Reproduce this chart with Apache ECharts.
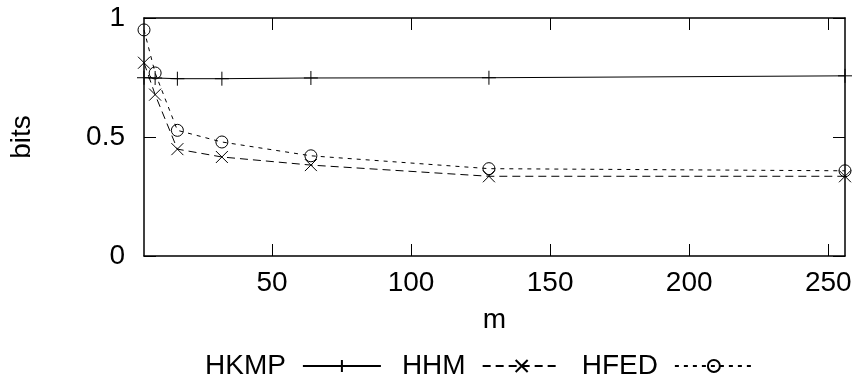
<!DOCTYPE html>
<html><head><meta charset="utf-8">
<script src="https://cdn.jsdelivr.net/npm/echarts@6/dist/echarts.min.js"></script>
<style>html,body{margin:0;padding:0;background:#fff}#c{width:859px;height:388px}</style>
</head><body><div id="c"></div>
<script>
const mValues = [4, 8, 16, 32, 64, 128, 256];
const hkmp = [0.749, 0.748, 0.745, 0.745, 0.748, 0.749, 0.757];
const hhm = [0.812, 0.678, 0.449, 0.416, 0.382, 0.335, 0.335];
const hfed = [0.950, 0.769, 0.528, 0.479, 0.421, 0.367, 0.358];
const xTicks = [50, 100, 150, 200, 250];
const yTicks = [0, 0.5, 1];
const seriesNames = ['HKMP', 'HHM', 'HFED'];

const FONT = 'Liberation Sans';
const FS = 28;
const pair = (ys) => mValues.map((x, i) => [x, ys[i]]);

const axisCommonX = {
  type: 'value', min: 4, max: 256,
  axisLine: {show: true, onZero: false, lineStyle: {color: '#000', width: 1.5}},
  axisTick: {show: true, inside: true, length: 12, customValues: xTicks, lineStyle: {color: '#000', width: 1}},
  splitLine: {show: false}
};
const axisCommonY = {
  type: 'value', min: 0, max: 1, interval: 0.5,
  axisLine: {show: true, onZero: false, lineStyle: {color: '#000', width: 1.5}},
  axisTick: {show: true, inside: true, length: 12, customValues: yTicks, lineStyle: {color: '#000', width: 1}},
  splitLine: {show: false}
};

const chart = echarts.init(document.getElementById('c'), null, {renderer: 'canvas'});
chart.setOption({
  animation: false,
  backgroundColor: '#fff',
  grid: {left: 142, right: 14, top: 18, bottom: 132},
  xAxis: [
    Object.assign({}, axisCommonX, {
      position: 'bottom',
      axisLabel: {customValues: xTicks, color: '#000', fontSize: FS, fontFamily: FONT, margin: 13},
      name: 'm', nameLocation: 'middle', nameGap: 50,
      nameTextStyle: {color: '#000', fontSize: FS, fontFamily: FONT}
    }),
    Object.assign({}, axisCommonX, {position: 'top', axisLabel: {show: false}})
  ],
  yAxis: [
    Object.assign({}, axisCommonY, {
      position: 'left',
      axisLabel: {customValues: yTicks, color: '#000', fontSize: FS, fontFamily: FONT, margin: 19},
      name: 'bits', nameLocation: 'middle', nameGap: 108, nameRotate: 90,
      nameTextStyle: {color: '#000', fontSize: FS, fontFamily: FONT}
    }),
    Object.assign({}, axisCommonY, {position: 'right', axisLabel: {show: false}})
  ],
  legend: {
    left: 200, top: 347,
    align: 'right',
    itemWidth: 78, itemHeight: 15, itemGap: 20,
    textStyle: {color: '#000', fontSize: FS, fontFamily: FONT, padding: [0, 12, 0, 0]},
    data: seriesNames
  },
  series: [
    {
      name: seriesNames[0], type: 'line', data: pair(hkmp),
      symbol: 'path://M0,5L10,5M5,0L5,10', symbolSize: 14,
      itemStyle: {color: 'none', borderColor: '#000', borderWidth: 1},
      lineStyle: {color: '#000', width: 1, type: 'solid'}
    },
    {
      name: seriesNames[1], type: 'line', data: pair(hhm),
      symbol: 'path://M0,0L10,10M10,0L0,10', symbolSize: 12,
      itemStyle: {color: 'none', borderColor: '#000', borderWidth: 1},
      lineStyle: {color: '#000', width: 1, type: [8, 5]}
    },
    {
      name: seriesNames[2], type: 'line', data: pair(hfed),
      symbol: 'circle', symbolSize: 12,
      itemStyle: {color: 'none', borderColor: '#000', borderWidth: 1},
      lineStyle: {color: '#000', width: 1, type: [4, 5]}
    }
  ]
});
</script>
</body></html>
